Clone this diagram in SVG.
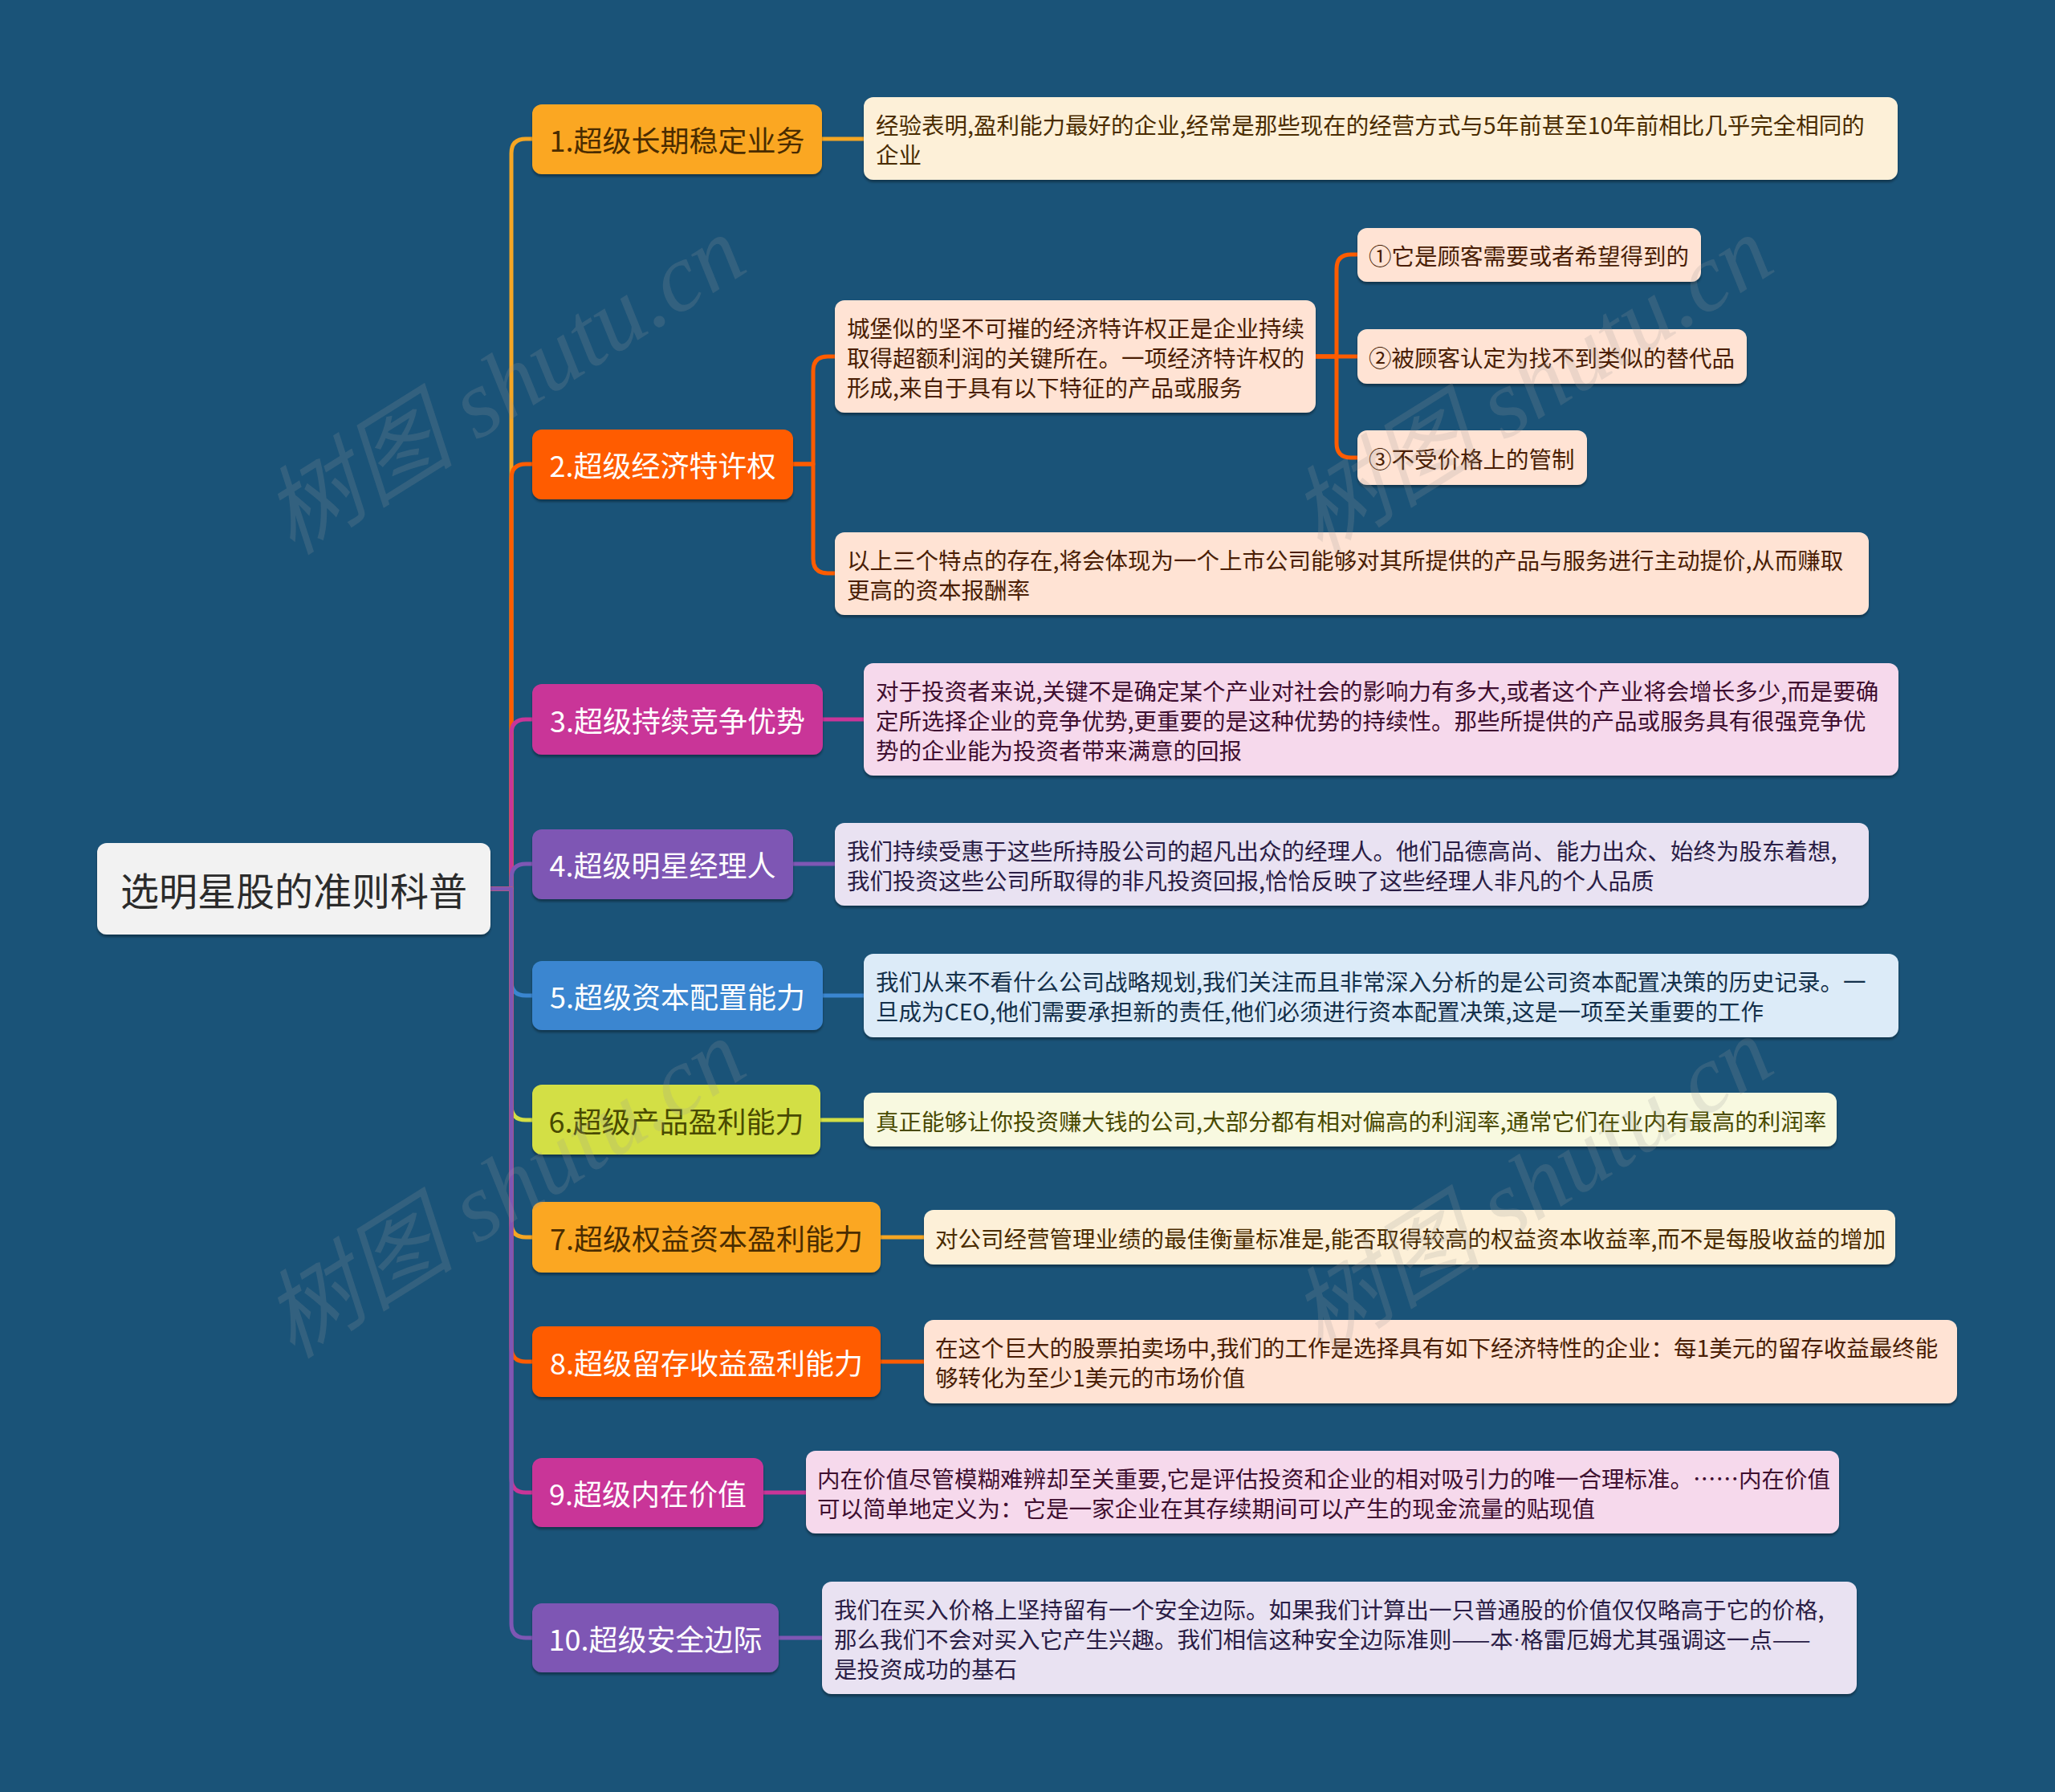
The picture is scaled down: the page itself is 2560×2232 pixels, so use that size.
<svg xmlns="http://www.w3.org/2000/svg" width="2560" height="2232" viewBox="0 0 2560 2232">
<defs>
<filter id="sh" x="-5%" y="-20%" width="110%" height="150%">
<feDropShadow dx="0" dy="3" stdDeviation="1.5" flood-color="#000" flood-opacity="0.35"/>
</filter>
<style>
.mn{font-family:"Noto Sans CJK SC","Noto Sans",sans-serif;font-size:36px;text-anchor:middle;dominant-baseline:central}
.lf{font-family:"Noto Sans CJK SC","Noto Sans",sans-serif;font-size:28.5px;dominant-baseline:central}
.lat{font-family:"Liberation Sans",sans-serif}
.w{fill:#ffffff}
.wm{font-family:"Liberation Serif","Noto Sans CJK SC",serif;font-size:120px;font-style:italic;fill:#9a9a9a;fill-opacity:0.2}
.cn path{fill:none;stroke-width:5;stroke-linecap:round;stroke-linejoin:round}
.o1{stroke:#f5a623}.o2{stroke:#ff5c00}.o3{stroke:#c93598}.o4{stroke:#7e57b4}.o5{stroke:#3a86d0}.o6{stroke:#d3df45}
.n1{fill:#fba723}.n2{fill:#ff5c00}.n3{fill:#c93598}.n4{fill:#7e57b4}.n5{fill:#3a86d0}.n6{fill:#d3df45}
.l1{fill:#fdf0d8}.l2{fill:#ffe3d4}.l3{fill:#f6d9ec}.l4{fill:#e9e2f2}.l5{fill:#dcebf8}.l6{fill:#f8f9e0}
.t1{fill:#4a2c00}.t2{fill:#4a1e05}.t3{fill:#3f0f30}.t4{fill:#2a1d45}.t5{fill:#14304a}.t6{fill:#494a00}
</style>
</defs>
<rect width="2560" height="2232" fill="#1a5378"/>

<g id="connectors" class="cn">
<path class="o1" d="M611 1107 H637 V191 Q637 173 655 173 H663"/>
<path class="o2" d="M611 1107 H637 V596 Q637 578 655 578 H663"/>
<path class="o3" d="M611 1107 H637 V914 Q637 896 655 896 H663"/>
<path class="o4" d="M611 1107 H637 V1094 Q637 1076 655 1076 H663"/>
<path class="o5" d="M611 1107 H637 V1222 Q637 1240 655 1240 H663"/>
<path class="o6" d="M611 1107 H637 V1377 Q637 1395 655 1395 H663"/>
<path class="o1" d="M611 1107 H637 V1523 Q637 1541 655 1541 H663"/>
<path class="o2" d="M611 1107 H637 V1678 Q637 1696 655 1696 H663"/>
<path class="o3" d="M611 1107 H637 V1841 Q637 1859 655 1859 H663"/>
<path class="o4" d="M611 1107 H637 V2022 Q637 2040 655 2040 H663"/>
<path class="o1" d="M1024 173 H1076"/>
<path class="o2" d="M988 578 H1013 V462 Q1013 444 1031 444 H1040"/>
<path class="o2" d="M988 578 H1013 V696 Q1013 714 1031 714 H1040"/>
<path class="o2" d="M1639 444 H1665 V335 Q1665 317 1683 317 H1691"/>
<path class="o2" d="M1639 444 H1691"/>
<path class="o2" d="M1639 444 H1665 V552 Q1665 570 1683 570 H1691"/>
<path class="o3" d="M1025 896 H1076"/>
<path class="o4" d="M988 1076 H1040"/>
<path class="o5" d="M1025 1240 H1076"/>
<path class="o6" d="M1022 1395 H1076"/>
<path class="o1" d="M1097 1541 H1151"/>
<path class="o2" d="M1097 1696 H1151"/>
<path class="o3" d="M951 1859 H1004"/>
<path class="o4" d="M970 2040 H1024"/>
</g>

<g id="root">
<rect x="121" y="1050" width="490" height="114" rx="12" fill="#f2f2f2" filter="url(#sh)"/>
<text x="366" y="1107" class="mn" style="font-size:48px" fill="#2b2b2b">选明星股的准则科普</text>
</g>

<g id="n1"><rect x="663" y="130" width="361" height="87" rx="12" class="n1" filter="url(#sh)"/><text x="843.5" y="173" class="mn t1">1.超级长期稳定业务</text></g>
<g id="n2"><rect x="663" y="535" width="325" height="87" rx="12" class="n2" filter="url(#sh)"/><text x="825.5" y="578" class="mn w">2.超级经济特许权</text></g>
<g id="n3"><rect x="663" y="852" width="362" height="88" rx="12" class="n3" filter="url(#sh)"/><text x="844" y="896" class="mn w">3.超级持续竞争优势</text></g>
<g id="n4"><rect x="663" y="1033" width="325" height="87" rx="12" class="n4" filter="url(#sh)"/><text x="825.5" y="1076" class="mn w">4.超级明星经理人</text></g>
<g id="n5"><rect x="663" y="1197" width="362" height="86" rx="12" class="n5" filter="url(#sh)"/><text x="844" y="1240" class="mn w">5.超级资本配置能力</text></g>
<g id="n6"><rect x="663" y="1351" width="359" height="87" rx="12" class="n6" filter="url(#sh)"/><text x="842.5" y="1395" class="mn t6">6.超级产品盈利能力</text></g>
<g id="n7"><rect x="663" y="1497" width="434" height="88" rx="12" class="n1" filter="url(#sh)"/><text x="880" y="1541" class="mn t1">7.超级权益资本盈利能力</text></g>
<g id="n8"><rect x="663" y="1652" width="434" height="88" rx="12" class="n2" filter="url(#sh)"/><text x="880" y="1696" class="mn w">8.超级留存收益盈利能力</text></g>
<g id="n9"><rect x="663" y="1816" width="288" height="86" rx="12" class="n3" filter="url(#sh)"/><text x="807" y="1859" class="mn w">9.超级内在价值</text></g>
<g id="n10"><rect x="663" y="1997" width="307" height="86" rx="12" class="n4" filter="url(#sh)"/><text x="816.5" y="2040" class="mn w">10.超级安全边际</text></g>

<g id="leaf1"><rect x="1076" y="121" width="1288" height="103" rx="12" class="l1" filter="url(#sh)"/>
<text class="lf t1" x="1091"><tspan x="1091" y="154">经验表明,盈利能力最好的企业,经常是那些现在的经营方式与5年前甚至10年前相比几乎完全相同的</tspan><tspan x="1091" y="191">企业</tspan></text></g>

<g id="leaf2a"><rect x="1040" y="374" width="599" height="140" rx="12" class="l2" filter="url(#sh)"/>
<text class="lf t2"><tspan x="1055" y="407">城堡似的坚不可摧的经济特许权正是企业持续</tspan><tspan x="1055" y="444">取得超额利润的关键所在。一项经济特许权的</tspan><tspan x="1055" y="481">形成,来自于具有以下特征的产品或服务</tspan></text></g>

<g id="sub1"><rect x="1691" y="284" width="428" height="67" rx="12" class="l2" filter="url(#sh)"/><text class="lf t2" x="1705" y="317">①它是顾客需要或者希望得到的</text></g>
<g id="sub2"><rect x="1691" y="410" width="485" height="68" rx="12" class="l2" filter="url(#sh)"/><text class="lf t2" x="1705" y="444">②被顾客认定为找不到类似的替代品</text></g>
<g id="sub3"><rect x="1691" y="536" width="286" height="68" rx="12" class="l2" filter="url(#sh)"/><text class="lf t2" x="1705" y="570">③不受价格上的管制</text></g>

<g id="leaf2b"><rect x="1040" y="663" width="1288" height="103" rx="12" class="l2" filter="url(#sh)"/>
<text class="lf t2"><tspan x="1055" y="696">以上三个特点的存在,将会体现为一个上市公司能够对其所提供的产品与服务进行主动提价,从而赚取</tspan><tspan x="1055" y="733">更高的资本报酬率</tspan></text></g>

<g id="leaf3"><rect x="1076" y="826" width="1289" height="140" rx="12" class="l3" filter="url(#sh)"/>
<text class="lf t3"><tspan x="1091" y="859">对于投资者来说,关键不是确定某个产业对社会的影响力有多大,或者这个产业将会增长多少,而是要确</tspan><tspan x="1091" y="896">定所选择企业的竞争优势,更重要的是这种优势的持续性。那些所提供的产品或服务具有很强竞争优</tspan><tspan x="1091" y="933">势的企业能为投资者带来满意的回报</tspan></text></g>

<g id="leaf4"><rect x="1040" y="1025" width="1288" height="103" rx="12" class="l4" filter="url(#sh)"/>
<text class="lf t4"><tspan x="1055" y="1058">我们持续受惠于这些所持股公司的超凡出众的经理人。他们品德高尚、能力出众、始终为股东着想,</tspan><tspan x="1055" y="1095">我们投资这些公司所取得的非凡投资回报,恰恰反映了这些经理人非凡的个人品质</tspan></text></g>

<g id="leaf5"><rect x="1076" y="1188" width="1289" height="104" rx="12" class="l5" filter="url(#sh)"/>
<text class="lf t5"><tspan x="1091" y="1221">我们从来不看什么公司战略规划,我们关注而且非常深入分析的是公司资本配置决策的历史记录。一</tspan><tspan x="1091" y="1258">旦成为CEO,他们需要承担新的责任,他们必须进行资本配置决策,这是一项至关重要的工作</tspan></text></g>

<g id="leaf6"><rect x="1076" y="1361" width="1212" height="67" rx="12" class="l6" filter="url(#sh)"/>
<text class="lf t6" x="1091" y="1395">真正能够让你投资赚大钱的公司,大部分都有相对偏高的利润率,通常它们在业内有最高的利润率</text></g>

<g id="leaf7"><rect x="1151" y="1507" width="1210" height="68" rx="12" class="l1" filter="url(#sh)"/>
<text class="lf t1" x="1165" y="1541">对公司经营管理业绩的最佳衡量标准是,能否取得较高的权益资本收益率,而不是每股收益的增加</text></g>

<g id="leaf8"><rect x="1151" y="1644" width="1287" height="104" rx="12" class="l2" filter="url(#sh)"/>
<text class="lf t2"><tspan x="1165" y="1677">在这个巨大的股票拍卖场中,我们的工作是选择具有如下经济特性的企业：每1美元的留存收益最终能</tspan><tspan x="1165" y="1714">够转化为至少1美元的市场价值</tspan></text></g>

<g id="leaf9"><rect x="1004" y="1807" width="1287" height="103" rx="12" class="l3" filter="url(#sh)"/>
<text class="lf t3"><tspan x="1018" y="1840">内在价值尽管模糊难辨却至关重要,它是评估投资和企业的相对吸引力的唯一合理标准。……内在价值</tspan><tspan x="1018" y="1877">可以简单地定义为：它是一家企业在其存续期间可以产生的现金流量的贴现值</tspan></text></g>

<g id="leaf10"><rect x="1024" y="1970" width="1289" height="140" rx="12" class="l4" filter="url(#sh)"/>
<text class="lf t4"><tspan x="1039" y="2003">我们在买入价格上坚持留有一个安全边际。如果我们计算出一只普通股的价值仅仅略高于它的价格,</tspan><tspan x="1039" y="2040">那么我们不会对买入它产生兴趣。我们相信这种安全边际准则——本<tspan class="lat">·</tspan>格雷厄姆尤其强调这一点——</tspan><tspan x="1039" y="2077">是投资成功的基石</tspan></text></g>

<g id="watermarks">
<text class="wm" text-anchor="middle" transform="translate(650 514) rotate(-32)">树图 shutu.cn</text>
<text class="wm" text-anchor="middle" transform="translate(1930 514) rotate(-32)">树图 shutu.cn</text>
<text class="wm" text-anchor="middle" transform="translate(650 1515) rotate(-32)">树图 shutu.cn</text>
<text class="wm" text-anchor="middle" transform="translate(1930 1512) rotate(-32)">树图 shutu.cn</text>
</g>
</svg>
